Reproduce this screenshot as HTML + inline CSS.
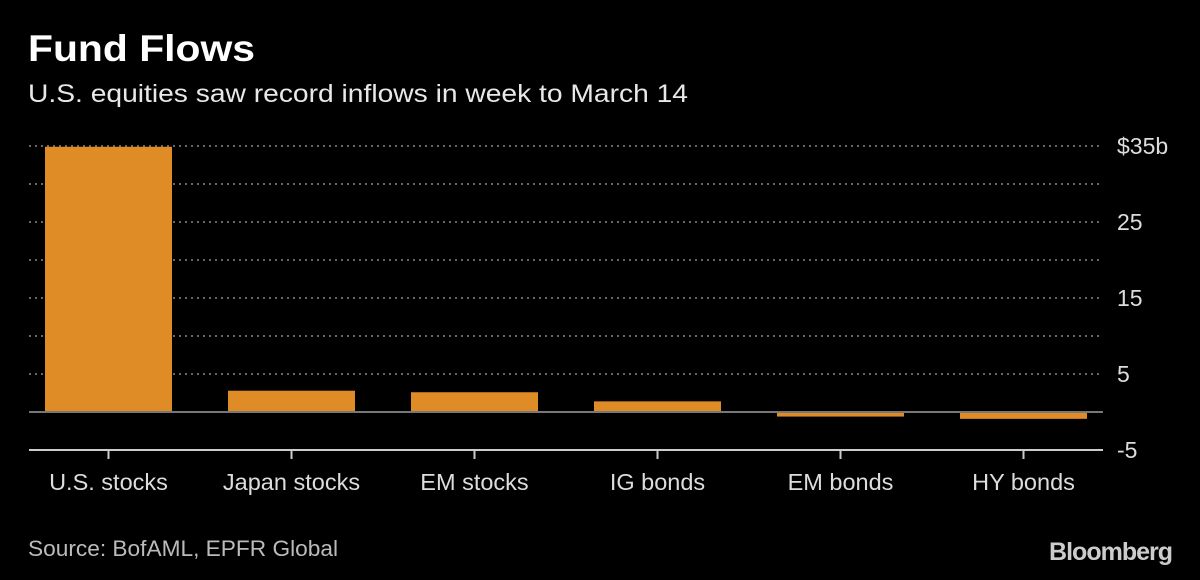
<!DOCTYPE html>
<html><head><meta charset="utf-8"><style>
body{margin:0;background:#000;width:1200px;height:580px;overflow:hidden;font-family:"Liberation Sans",sans-serif;color:#fff}
</style></head><body>
<svg width="1200" height="580" style="position:absolute;left:0;top:0">
<text x="28" y="61" font-size="37" font-weight="bold" fill="#fff" textLength="227" lengthAdjust="spacingAndGlyphs">Fund Flows</text>
<text x="28" y="102" font-size="25" fill="#e8e8e8" textLength="660" lengthAdjust="spacingAndGlyphs">U.S. equities saw record inflows in week to March 14</text>
<g id="grid"></g><g id="bars"></g><g id="axis"></g>
<text x="28" y="556" font-size="22" fill="#bbb" textLength="310" lengthAdjust="spacingAndGlyphs">Source: BofAML, EPFR Global</text>
<text x="1172" y="560" font-size="25" font-weight="bold" fill="#ccc" text-anchor="end" letter-spacing="-1">Bloomberg</text>
</svg>
<script>
const categories=["U.S. stocks","Japan stocks","EM stocks","IG bonds","EM bonds","HY bonds"];
const values=[34.9,2.8,2.6,1.4,-0.6,-0.9];
const gridValues=[35,30,25,20,15,10,5];
const tickLabels=["$35b","25","15","5","-5"];
const tickLabelValues=[35,25,15,5,-5];
const NS="http://www.w3.org/2000/svg";
const y=v=>412-v*7.6;
const bandX=i=>17+i*183;
function mk(t,a,p){const e=document.createElementNS(NS,t);for(const k in a)e.setAttribute(k,a[k]);p.appendChild(e);return e;}
const G=document.getElementById('grid'),B=document.getElementById('bars'),A=document.getElementById('axis');
gridValues.forEach(v=>{const l=mk('line',{x1:29,x2:1103,y1:y(v),y2:y(v),stroke:'#888','stroke-width':1.5,'stroke-dasharray':'2,4'},G);

});
values.forEach((v,i)=>{const r=mk('rect',{x:bandX(i)+28,width:127,y:Math.min(y(v),y(0)),height:Math.abs(y(v)-y(0)),fill:'#df8b26'},B);

});
const z=mk('line',{x1:29,x2:1103,y1:y(0),y2:y(0),stroke:'#777','stroke-width':2},A);


const ax=mk('line',{x1:29,x2:1103,y1:y(-5),y2:y(-5),stroke:'#ccc','stroke-width':2},A);


categories.forEach((c,i)=>{const cx=bandX(i)+91.5;
const t=mk('line',{x1:cx,x2:cx,y1:y(-5),y2:y(-5)+9,stroke:'#ccc','stroke-width':2},A);


const tx=mk('text',{x:cx,y:490,'font-size':23.5,fill:'#ddd','text-anchor':'middle'},A);tx.textContent=c;

});
tickLabels.forEach((s,i)=>{const tx=mk('text',{x:1117,y:y(tickLabelValues[i])+8,'font-size':23,fill:'#ddd'},A);tx.textContent=s;

});
</script>
</body></html>
